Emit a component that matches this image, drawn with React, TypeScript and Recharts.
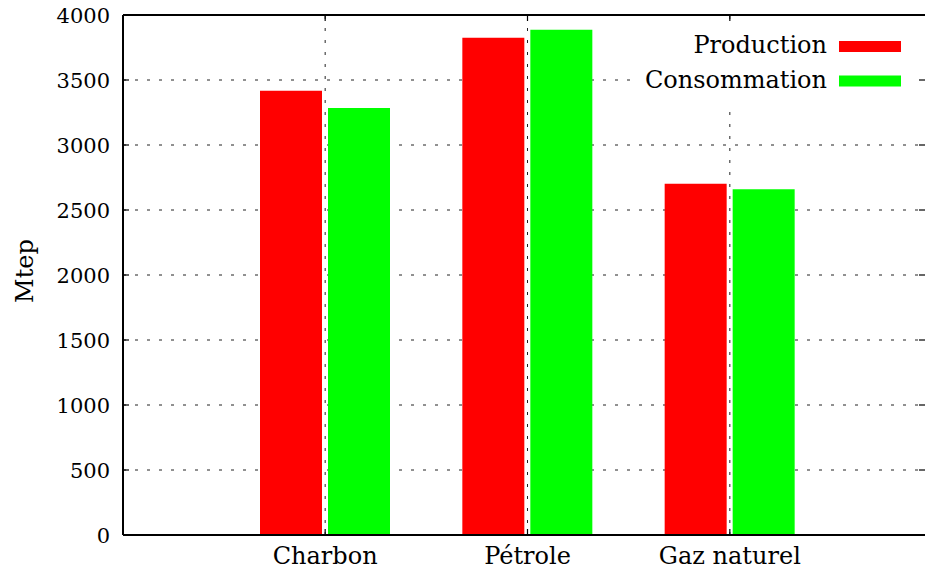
import { BarChart, Bar, XAxis, YAxis, CartesianGrid, Legend, ReferenceLine } from "recharts";

const CATEGORIES = ["Charbon", "Pétrole", "Gaz naturel"];
const PRODUCTION = [3418, 3825, 2702];
const CONSOMMATION = [3285, 3887, 2659];
const SERIES = ["Production", "Consommation"];
const Y_TICKS = [0, 500, 1000, 1500, 2000, 2500, 3000, 3500, 4000];

const FONT = "'DejaVu Serif', serif";
const W = 925;
const H = 571;
const PLOT_TOP = 15;
const PLOT_RIGHT = 925;
const TICK = 6;
const GRID_DASH = "3 9";
const GRID_COLOR = "#222";

const data = CATEGORIES.map((name, i) => ({
  name,
  production: PRODUCTION[i],
  consommation: CONSOMMATION[i],
}));

function YTick(props: any) {
  const { x, y, payload } = props;
  const axisX = x + 13;
  return (
    <g>
      <line x1={axisX} x2={axisX + TICK} y1={y} y2={y} stroke="#000" strokeWidth={1.2} />
      <line x1={PLOT_RIGHT - TICK} x2={PLOT_RIGHT} y1={y} y2={y} stroke="#000" strokeWidth={1.2} />
      <text x={x} y={y + 8} textAnchor="end" fontFamily={FONT} fontSize={21} fill="#000">
        {payload.value}
      </text>
    </g>
  );
}

function XTick(props: any) {
  const { x, y, payload } = props;
  return (
    <g>
      <line x1={x} x2={x} y1={y} y2={y - TICK} stroke="#000" strokeWidth={1.2} />
      <line x1={x} x2={x} y1={PLOT_TOP} y2={PLOT_TOP + TICK} stroke="#000" strokeWidth={1.2} />
      <text x={x} y={y + 29} textAnchor="middle" fontFamily={FONT} fontSize={24} fill="#000">
        {payload.value}
      </text>
    </g>
  );
}

function KeyBox(props: any) {
  const items = [...(props.payload || [])].sort(
    (a: any, b: any) => SERIES.indexOf(a.value) - SERIES.indexOf(b.value)
  );
  return (
    <svg width={288} height={90} style={{ display: "block", background: "#fff" }}>
      {items.map((it: any, i: number) => (
        <g key={it.value}>
          <text x={197} y={30.5 + i * 35} textAnchor="end" fontFamily={FONT} fontSize={24} fill="#000">
            {it.value}
          </text>
          <rect x={209} y={19 + i * 34.5} width={62} height={11} fill={it.color} />
        </g>
      ))}
    </svg>
  );
}

export default function App() {
  return (
    <div style={{ position: "absolute", left: 0, top: 0, width: W, height: H, background: "#fff" }}>
      <BarChart
        width={W}
        height={H}
        data={data}
        margin={{ top: PLOT_TOP, right: W - PLOT_RIGHT, left: 0, bottom: 6 }}
        barSize={62}
        barGap={6}
      >
        <CartesianGrid stroke={GRID_COLOR} strokeDasharray={GRID_DASH} strokeWidth={1} vertical={false} />
        {CATEGORIES.map((c) => (
          <ReferenceLine key={c} x={c} stroke={GRID_COLOR} strokeDasharray={GRID_DASH} strokeWidth={1} />
        ))}
        <XAxis
          dataKey="name"
          height={30}
          padding={{ left: 101, right: 94 }}
          tickLine={false}
          tickSize={0}
          tickMargin={0}
          axisLine={{ stroke: "#000", strokeWidth: 2 }}
          tick={<XTick />}
          interval={0}
        />
        <YAxis
          width={123}
          domain={[0, 4000]}
          ticks={Y_TICKS}
          tickLine={false}
          tickSize={0}
          tickMargin={13}
          axisLine={{ stroke: "#000", strokeWidth: 2 }}
          tick={<YTick />}
          label={(p: any) => {
            const vb = p.viewBox;
            const cx = vb.x + 33;
            const cy = vb.y + vb.height / 2 - 4;
            return (
              <text
                x={cx}
                y={cy}
                transform={`rotate(-90 ${cx} ${cy})`}
                textAnchor="middle"
                fontFamily={FONT}
                fontSize={24}
                fill="#000"
              >
                Mtep
              </text>
            );
          }}
        />
        <ReferenceLine y={4000} stroke="#000" strokeWidth={2} />
        <Bar dataKey="production" name="Production" fill="#ff0000" isAnimationActive={false} />
        <Bar dataKey="consommation" name="Consommation" fill="#00ff00" isAnimationActive={false} />
        <Legend
          layout="horizontal"
          verticalAlign="middle"
          align="center"
          content={<KeyBox />}
          wrapperStyle={{ position: "absolute", top: 22, left: 630, width: 288, height: 90 }}
        />
      </BarChart>
    </div>
  );
}
